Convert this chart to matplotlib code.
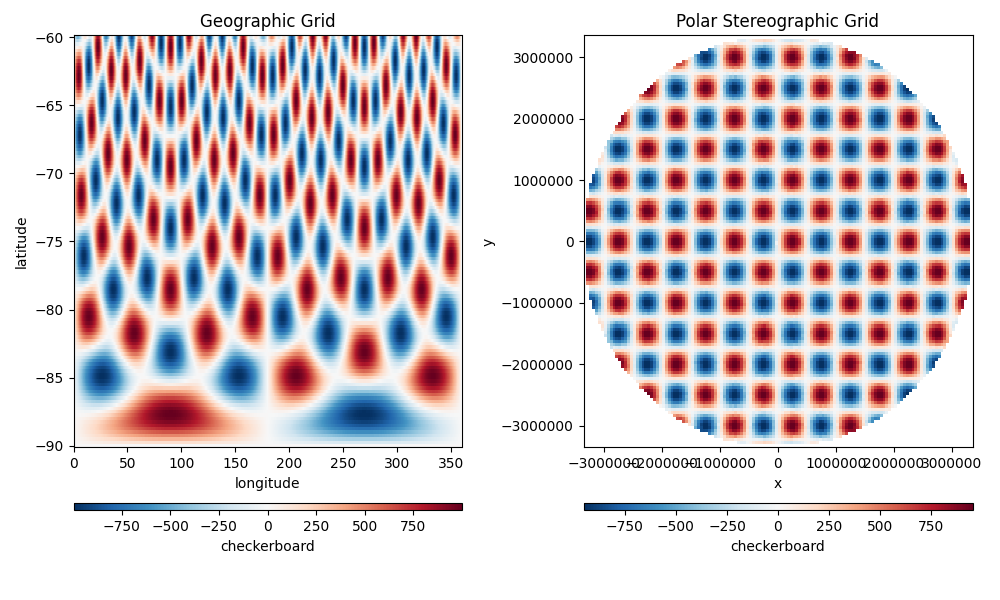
import matplotlib
matplotlib.use('Agg')
import matplotlib.pyplot as plt
import numpy as np

# Note: the field is a checkerboard seen through a polar projection, too many
# cells to read by hand, so it is computed from the values.
amplitude = 1000
wavelength = 1e6
lon_range = [0, 360]
lat_range = [-90, -60]
geo_spacing = 0.25
polar_spacing = 5e4
geo_limit = 997
polar_limit = 953
colorbar_ticks = [-750, -500, -250, 0, 250, 500, 750]

# WGS84 ellipsoid, true scale at 71 S (south polar stereographic)
semi_major = 6378137.0
ecc = 0.0818191908426
lat_true = 71.0


def t_factor(lat_rad):
    s = ecc * np.sin(lat_rad)
    return np.tan(np.pi / 4 - lat_rad / 2) / ((1 - s) / (1 + s)) ** (ecc / 2)


def project(lon, lat):
    lat_rad = np.radians(-lat)
    phi = np.radians(lat_true)
    mc = np.cos(phi) / np.sqrt(1 - (ecc * np.sin(phi)) ** 2)
    rho = semi_major * mc * t_factor(lat_rad) / t_factor(phi)
    return rho * np.sin(np.radians(lon)), rho * np.cos(np.radians(lon))


def checkerboard(x, y):
    return amplitude * np.sin(2 * np.pi * x / wavelength) * np.cos(2 * np.pi * y / wavelength)


# Geographic grid
lon = np.arange(lon_range[0], lon_range[1] + geo_spacing, geo_spacing)
lat = np.arange(lat_range[0], lat_range[1] + geo_spacing, geo_spacing)
lon_2d, lat_2d = np.meshgrid(lon, lat)
x_geo, y_geo = project(lon_2d, lat_2d)
geo_data = checkerboard(x_geo, y_geo)

# Polar grid: mean of the geographic points falling in each cell
reach = np.abs(x_geo).max()
n_cells = int(round(2 * reach / polar_spacing)) + 1
x_polar = np.linspace(-reach, reach, n_cells)
y_polar = np.linspace(-reach, reach, n_cells)
step = x_polar[1] - x_polar[0]
col = np.round((x_geo.ravel() + reach) / step).astype(int)
row = np.round((y_geo.ravel() + reach) / step).astype(int)
total = np.zeros((n_cells, n_cells))
count = np.zeros_like(total)
np.add.at(total, (row, col), geo_data.ravel())
np.add.at(count, (row, col), 1)
# The outer ring of cells stays blank in the reference
count[[0, -1], :] = 0
count[:, [0, -1]] = 0
polar_data = np.ma.masked_where(count == 0, total / np.where(count == 0, 1, count))

fig = plt.figure(figsize=(10, 6))
# Posiciones medidas en la imagen (fracciones de la figura)
ax1 = fig.add_axes([0.0735, 0.2542, 0.388, 0.6867])
ax2 = fig.add_axes([0.5835, 0.2542, 0.389, 0.6867])
cax1 = fig.add_axes([0.0735, 0.1492, 0.388, 0.0125])
cax2 = fig.add_axes([0.5835, 0.1492, 0.389, 0.0125])

mesh1 = ax1.pcolormesh(lon, lat, geo_data, cmap='RdBu_r', vmin=-geo_limit, vmax=geo_limit,
                       shading='nearest', rasterized=True)
cb1 = fig.colorbar(mesh1, cax=cax1, orientation='horizontal')
cb1.set_ticks(colorbar_ticks)
cb1.set_label('checkerboard')
ax1.set(title='Geographic Grid', xlabel='longitude', ylabel='latitude')

mesh2 = ax2.pcolormesh(x_polar, y_polar, polar_data, cmap='RdBu_r', vmin=-polar_limit, vmax=polar_limit,
                       shading='nearest', rasterized=True)
ax2.set_xlim(x_polar[0] - step / 2, x_polar[-1] + step / 2)
ax2.set_ylim(y_polar[0] - step / 2, y_polar[-1] + step / 2)
cb2 = fig.colorbar(mesh2, cax=cax2, orientation='horizontal')
cb2.set_ticks(colorbar_ticks)
cb2.set_label('checkerboard')
ax2.set(title='Polar Stereographic Grid', xlabel='x', ylabel='y')
ax2.ticklabel_format(style='plain')

fig.savefig('out.png', dpi=100)
